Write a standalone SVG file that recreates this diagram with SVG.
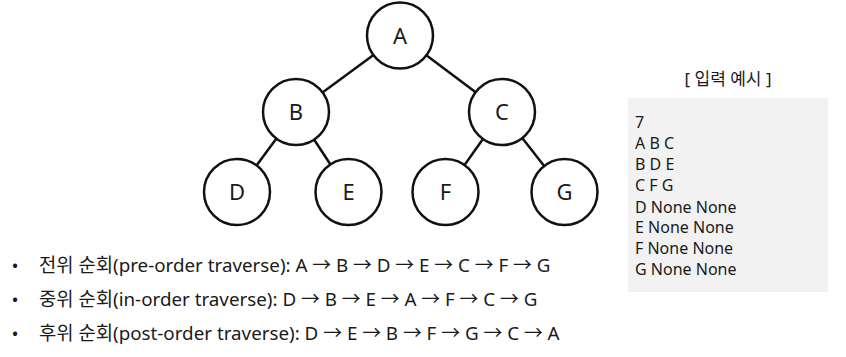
<svg xmlns="http://www.w3.org/2000/svg" width="846" height="357" viewBox="0 0 846 357">
<style>
.edge{stroke:#111;stroke-width:2.5;fill:none}
.node circle{fill:#fff;stroke:#111;stroke-width:2.5}
.node text{font-family:"Noto Sans","Noto Sans CJK KR",sans-serif;font-size:22px;fill:#1a1a1a;text-anchor:middle}
.t{font-family:"Noto Sans","Noto Sans CJK KR",sans-serif;fill:#1a1a1a}
.trav{font-size:18.8px}
.inp{font-size:16px}
</style>
<rect width="846" height="357" fill="#fff"/>
<g id="connectors">
<line class="edge" x1="400" y1="35.5" x2="296" y2="112"/>
<line class="edge" x1="400" y1="35.5" x2="502" y2="112"/>
<line class="edge" x1="296" y1="112" x2="237" y2="192"/>
<line class="edge" x1="296" y1="112" x2="348.5" y2="192"/>
<line class="edge" x1="502" y1="112" x2="445.5" y2="192"/>
<line class="edge" x1="502" y1="112" x2="564.5" y2="192"/>
</g>
<g id="node-A" class="node"><circle cx="400" cy="35.5" r="33"/><text x="400" y="43.5">A</text></g>
<g id="node-B" class="node"><circle cx="296" cy="112" r="33"/><text x="296" y="120">B</text></g>
<g id="node-C" class="node"><circle cx="502" cy="112" r="33"/><text x="502" y="120">C</text></g>
<g id="node-D" class="node"><circle cx="237" cy="192" r="33"/><text x="237" y="200">D</text></g>
<g id="node-E" class="node"><circle cx="348.5" cy="192" r="33"/><text x="348.5" y="200">E</text></g>
<g id="node-F" class="node"><circle cx="445.5" cy="192" r="33"/><text x="445.5" y="200">F</text></g>
<g id="node-G" class="node"><circle cx="564.5" cy="192" r="33"/><text x="564.5" y="200">G</text></g>
<g id="traversals" class="t trav">
<text x="15" y="272" text-anchor="middle">•</text>
<text x="39" y="272">전위 순회(pre-order traverse): A → B → D → E → C → F → G</text>
<text x="15" y="306" text-anchor="middle">•</text>
<text x="39" y="306">중위 순회(in-order traverse): D → B → E → A → F → C → G</text>
<text x="15" y="340" text-anchor="middle">•</text>
<text x="39" y="340">후위 순회(post-order traverse): D → E → B → F → G → C → A</text>
</g>
<g id="input-example">
<text class="t" x="728" y="85" font-size="17" text-anchor="middle">[ 입력 예시 ]</text>
<rect x="628" y="98" width="200" height="194" fill="#f2f2f2"/>
<g class="t inp">
<text x="635" y="128">7</text>
<text x="635" y="149">A B C</text>
<text x="635" y="170">B D E</text>
<text x="635" y="191">C F G</text>
<text x="635" y="212.5">D None None</text>
<text x="635" y="233">E None None</text>
<text x="635" y="254">F None None</text>
<text x="635" y="275">G None None</text>
</g>
</g>
</svg>
